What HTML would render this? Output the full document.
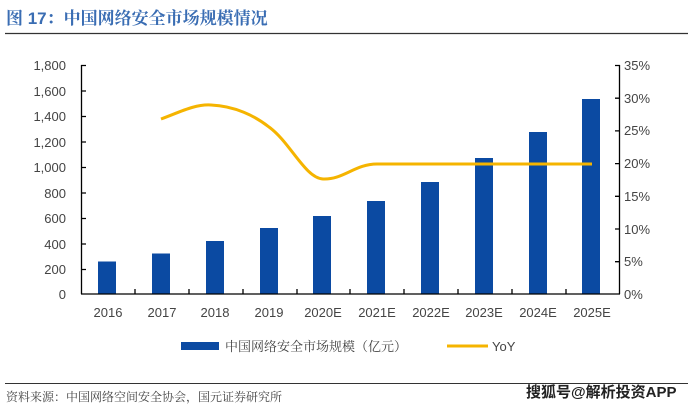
<!DOCTYPE html>
<html><head><meta charset="utf-8"><style>
body{margin:0;background:#fff;}
svg text{font-family:"Liberation Sans","Noto Sans CJK SC",sans-serif;}
svg text.s{font-family:"Liberation Sans","Noto Serif CJK SC",serif;}
</style></head><body>
<svg width="692" height="408" viewBox="0 0 692 408" xmlns="http://www.w3.org/2000/svg">
<text class="s" x="6" y="24" font-size="17" font-weight="bold" fill="#3a6db3">图 17：中国网络安全市场规模情况</text>
<line x1="5" y1="33.5" x2="688" y2="33.5" stroke="#333" stroke-width="1.2"/>
<g fill="#0b4aa2">
<rect x="98" y="261.5" width="18" height="32.5"/>
<rect x="152" y="253.5" width="18" height="40.5"/>
<rect x="206" y="241" width="18" height="53"/>
<rect x="260" y="228" width="18" height="66"/>
<rect x="313" y="216" width="18" height="78"/>
<rect x="367" y="201" width="18" height="93"/>
<rect x="421" y="182" width="18" height="112"/>
<rect x="475" y="158" width="18" height="136"/>
<rect x="529" y="132" width="18" height="162"/>
<rect x="582" y="99" width="18" height="195"/>
</g>
<g stroke="#000" stroke-width="1.3" fill="none">
<line x1="81.5" y1="65" x2="81.5" y2="294"/>
<line x1="619.5" y1="65" x2="619.5" y2="294"/>
<line x1="81" y1="294" x2="620" y2="294"/>
<path d="M81 65.5h5M81 91h5M81 116.5h5M81 142h5M81 167.5h5M81 193h5M81 218.5h5M81 244h5M81 269.5h5"/>
<path d="M620 65.5h-5M620 98.2h-5M620 130.9h-5M620 163.6h-5M620 196.3h-5M620 229h-5M620 261.7h-5"/>
<path d="M135 294v-5M189 294v-5M243 294v-5M297 294v-5M350 294v-5M404 294v-5M458 294v-5M512 294v-5M566 294v-5"/>
</g>
<g font-size="13" fill="#444" text-anchor="end">
<text x="66" y="70">1,800</text><text x="66" y="96">1,600</text><text x="66" y="121">1,400</text><text x="66" y="147">1,200</text><text x="66" y="172">1,000</text><text x="66" y="198">800</text><text x="66" y="223">600</text><text x="66" y="249">400</text><text x="66" y="274">200</text><text x="66" y="299">0</text>
</g>
<g font-size="13" fill="#444">
<text x="624" y="70">35%</text><text x="624" y="103">30%</text><text x="624" y="135">25%</text><text x="624" y="168">20%</text><text x="624" y="201">15%</text><text x="624" y="234">10%</text><text x="624" y="266">5%</text><text x="624" y="299">0%</text>
</g>
<g font-size="13" fill="#444" text-anchor="middle">
<text x="108" y="317">2016</text><text x="162" y="317">2017</text><text x="215" y="317">2018</text><text x="269" y="317">2019</text><text x="323" y="317">2020E</text><text x="377" y="317">2021E</text><text x="431" y="317">2022E</text><text x="484" y="317">2023E</text><text x="538" y="317">2024E</text><text x="592" y="317">2025E</text>
</g>
<path d="M161 119 C180 112,195 104,211 105 C235 106,255 116,269 127 C290 142,305 178,323 179 C343 180,355 164,377 164 L430 164 L592 164" stroke="#f5b400" stroke-width="3" fill="none"/>
<rect x="181" y="342" width="38" height="8" fill="#0b4aa2"/>
<text class="s" x="225" y="351" font-size="13" fill="#444">中国网络安全市场规模（亿元）</text>
<line x1="447" y1="346" x2="488" y2="346" stroke="#f5b400" stroke-width="3"/>
<text x="492" y="351" font-size="13" fill="#444">YoY</text>
<line x1="5" y1="383.5" x2="688" y2="383.5" stroke="#333" stroke-width="1"/>
<text class="s" x="6" y="401" font-size="12" fill="#444">资料来源：中国网络空间安全协会，国元证券研究所</text>
<text x="526" y="397" font-size="15" font-weight="bold" fill="#222">搜狐号@解析投资APP</text>
</svg>
</body></html>
